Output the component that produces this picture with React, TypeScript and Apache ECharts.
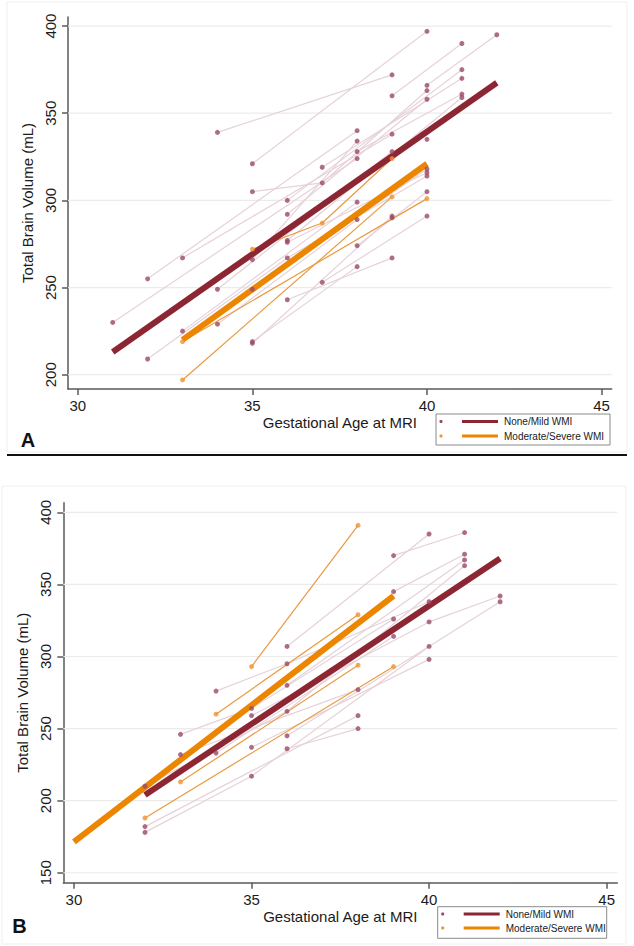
import React, { useEffect, useRef } from "react";
import * as echarts from "echarts";

// ---------- tick labels / categories ----------
const X_TICKS = [30, 35, 40, 45];
const A_Y_TICKS = [200, 250, 300, 350, 400];
const B_Y_TICKS = [150, 200, 250, 300, 350, 400];
const GROUPS = ["None/Mild WMI", "Moderate/Severe WMI"];
const X_TITLE = "Gestational Age at MRI";
const Y_TITLE = "Total Brain Volume (mL)";
const PANEL_LABELS = ["A", "B"];

// ---------- Panel A data: [GA weeks, volume mL] per subject ----------
const A_NONE_SUBJECTS = [
  [[31, 230], [38, 324]],
  [[32, 255], [38, 340]],
  [[32, 209], [36, 267], [40, 314]],
  [[33, 267], [39, 338]],
  [[33, 225], [38, 299]],
  [[34, 339], [39, 372]],
  [[34, 249], [39, 328]],
  [[34, 229], [38, 289]],
  [[35, 321], [40, 397]],
  [[35, 305], [37, 310], [40, 363]],
  [[35, 266], [38, 334]],
  [[35, 249], [40, 318]],
  [[35, 218], [39, 291]],
  [[35, 219], [38, 262]],
  [[36, 300], [41, 375]],
  [[36, 292], [40, 358]],
  [[36, 277], [41, 359]],
  [[36, 276], [40, 316]],
  [[36, 243], [39, 267]],
  [[37, 319], [41, 370]],
  [[37, 253], [40, 291]],
  [[38, 328], [41, 361]],
  [[39, 360], [41, 390]],
  [[40, 366], [42, 395]],
  [[38, 274], [40, 305]],
  [[39, 290]],
  [[40, 335]],
];
const A_MOD_SUBJECTS = [
  [[33, 197], [39, 302]],
  [[33, 219], [40, 301]],
  [[35, 272], [37, 287], [39, 324]],
];
const A_NONE_FIT = [[31, 213], [42, 367.5]];
const A_MOD_FIT = [[33, 220], [40, 321]];

// ---------- Panel B data ----------
const B_NONE_SUBJECTS = [
  [[32, 210], [36, 262], [41, 363]],
  [[32, 182], [38, 259]],
  [[36, 236], [38, 250]],
  [[33, 246], [35, 264], [39, 326]],
  [[33, 232], [38, 277]],
  [[34, 276], [36, 295], [40, 338]],
  [[34, 233], [39, 314]],
  [[35, 259], [40, 324], [42, 342]],
  [[35, 237], [40, 298]],
  [[32, 178], [35, 217], [40, 307]],
  [[36, 307], [40, 385]],
  [[36, 280], [41, 367]],
  [[36, 245], [42, 338]],
  [[39, 345], [41, 371]],
  [[39, 370], [41, 386]],
];
const B_MOD_SUBJECTS = [
  [[35, 293], [38, 391]],
  [[34, 260], [38, 329]],
  [[33, 213], [38, 294]],
  [[32, 188], [39, 293]],
];
const B_NONE_FIT = [[32, 204], [42, 368]];
const B_MOD_FIT = [[30, 171.5], [39, 342]];

// ---------- styles ----------
const FONT = "'Liberation Sans', Arial, Helvetica, sans-serif";
const TEXT = "#1b1b1b";
const AXIS = "#5a5a5a";
const GRIDC = "#ebebeb";
const NONE_FIT_C = "#8c2633";
const NONE_DOT_C = "#9a4a68";
const NONE_THIN_C = "#e6d2d8";
const MOD_FIT_C = "#ec8500";
const MOD_DOT_C = "#ee9535";
const MOD_THIN_C = "#e99a40";

type Panel = {
  grid: { left: number; top: number; width: number; height: number };
  xr: [number, number];
  yr: [number, number];
  yTicks: number[];
  none: number[][][];
  mod: number[][][];
  noneFit: number[][];
  modFit: number[][];
};

const PANELS: Panel[] = [
  {
    grid: { left: 68, top: 17, width: 543.7, height: 372 },
    xr: [29.72, 45.29],
    yr: [191.8, 405.2],
    yTicks: A_Y_TICKS,
    none: A_NONE_SUBJECTS,
    mod: A_MOD_SUBJECTS,
    noneFit: A_NONE_FIT,
    modFit: A_MOD_FIT,
  },
  {
    grid: { left: 63.3, top: 502.7, width: 554, height: 380 },
    xr: [29.7, 45.3],
    yr: [143.1, 406.7],
    yTicks: B_Y_TICKS,
    none: B_NONE_SUBJECTS,
    mod: B_MOD_SUBJECTS,
    noneFit: B_NONE_FIT,
    modFit: B_MOD_FIT,
  },
];

function buildOption() {
  const grids: any[] = [];
  const xAxes: any[] = [];
  const yAxes: any[] = [];
  const series: any[] = [];

  PANELS.forEach((p, i) => {
    grids.push({ ...p.grid, containLabel: false });
    xAxes.push({
      type: "value",
      gridIndex: i,
      min: p.xr[0],
      max: p.xr[1],
      axisLine: { show: true, onZero: false, lineStyle: { color: AXIS, width: 1.5 } },
      axisTick: { show: true, customValues: X_TICKS, length: 6, lineStyle: { color: AXIS, width: 1.5 } },
      axisLabel: { customValues: X_TICKS, fontSize: 15, color: TEXT, fontFamily: FONT, margin: 9 },
      splitLine: { show: false },
      name: X_TITLE,
      nameLocation: "middle",
      nameGap: 26,
      nameTextStyle: { fontSize: 15, color: TEXT, fontFamily: FONT },
    });
    yAxes.push({
      type: "value",
      gridIndex: i,
      min: p.yr[0],
      max: p.yr[1],
      axisLine: { show: true, onZero: false, lineStyle: { color: AXIS, width: 1.5 } },
      axisTick: { show: true, customValues: p.yTicks, length: 6, lineStyle: { color: AXIS, width: 1.5 } },
      axisLabel: { customValues: p.yTicks, rotate: 90, fontSize: 15, color: TEXT, fontFamily: FONT, margin: 10 },
      splitLine: { show: false },
      name: Y_TITLE,
      nameLocation: "middle",
      nameGap: 27,
      nameRotate: 90,
      nameTextStyle: { fontSize: 15, color: TEXT, fontFamily: FONT },
    });

    // grid lines at y ticks
    p.yTicks.forEach((v) => {
      series.push({
        type: "line",
        xAxisIndex: i,
        yAxisIndex: i,
        data: [[p.xr[0], v], [p.xr[1], v]],
        showSymbol: false,
        silent: true,
        z: 0,
        lineStyle: { color: GRIDC, width: 1.2 },
      });
    });

    // thin subject lines
    p.none.forEach((s) => {
      series.push({
        type: "line",
        xAxisIndex: i,
        yAxisIndex: i,
        data: s,
        showSymbol: false,
        silent: true,
        z: 1,
        lineStyle: { color: NONE_THIN_C, width: 1.2 },
      });
    });
    p.mod.forEach((s) => {
      series.push({
        type: "line",
        xAxisIndex: i,
        yAxisIndex: i,
        data: s,
        showSymbol: false,
        silent: true,
        z: 1,
        lineStyle: { color: MOD_THIN_C, width: 1.2 },
      });
    });

    // fit lines
    series.push({
      type: "line",
      name: GROUPS[0],
      xAxisIndex: i,
      yAxisIndex: i,
      data: p.noneFit,
      showSymbol: false,
      silent: true,
      z: 2,
      lineStyle: { color: NONE_FIT_C, width: 6 },
    });
    series.push({
      type: "line",
      name: GROUPS[1],
      xAxisIndex: i,
      yAxisIndex: i,
      data: p.modFit,
      showSymbol: false,
      silent: true,
      z: 2,
      lineStyle: { color: MOD_FIT_C, width: 6 },
    });

    // dots
    series.push({
      type: "scatter",
      xAxisIndex: i,
      yAxisIndex: i,
      data: p.none.flat(),
      symbolSize: 5,
      silent: true,
      z: 3,
      itemStyle: { color: NONE_DOT_C },
    });
    series.push({
      type: "scatter",
      xAxisIndex: i,
      yAxisIndex: i,
      data: p.mod.flat(),
      symbolSize: 5,
      silent: true,
      z: 3,
      itemStyle: { color: MOD_DOT_C },
    });
  });

  const legend = (x: number, y: number, w: number, h: number, r1: number, r2: number) => {
    const rows = [
      { yy: r1, dot: NONE_DOT_C, line: NONE_FIT_C, text: GROUPS[0] },
      { yy: r2, dot: MOD_DOT_C, line: MOD_FIT_C, text: GROUPS[1] },
    ];
    const els: any[] = [
      {
        type: "rect",
        shape: { x, y, width: w, height: h },
        style: { fill: "#fff", stroke: "#8a8a8a", lineWidth: 1 },
        z: 10,
      },
    ];
    rows.forEach((r) => {
      els.push({ type: "circle", shape: { cx: x + 5, cy: r.yy, r: 1.6 }, style: { fill: r.dot }, z: 11 });
      els.push({
        type: "line",
        shape: { x1: x + 26, y1: r.yy, x2: x + 62, y2: r.yy },
        style: { stroke: r.line, lineWidth: 3 },
        z: 11,
      });
      els.push({
        type: "text",
        x: x + 68,
        y: r.yy,
        style: { text: r.text, fontSize: 10, fontFamily: FONT, fill: "#222", verticalAlign: "middle" },
        z: 11,
      });
    });
    return els;
  };

  const graphic: any[] = [
    { type: "rect", shape: { x: 7, y: 2, width: 620, height: 450 }, style: { fill: "none", stroke: "#efefef", lineWidth: 1 }, z: -1 },
    { type: "rect", shape: { x: 2, y: 486, width: 624, height: 458 }, style: { fill: "none", stroke: "#efefef", lineWidth: 1 }, z: -1 },
    { type: "line", shape: { x1: 7, y1: 455, x2: 627, y2: 455 }, style: { stroke: "#111", lineWidth: 2 }, z: 5 },
    {
      type: "text",
      x: 28,
      y: 440,
      style: { text: PANEL_LABELS[0], fontSize: 20, fontWeight: "bold", fontFamily: FONT, fill: "#111", align: "center", verticalAlign: "middle" },
    },
    {
      type: "text",
      x: 19.5,
      y: 925.5,
      style: { text: PANEL_LABELS[1], fontSize: 20, fontWeight: "bold", fontFamily: FONT, fill: "#111", align: "center", verticalAlign: "middle" },
    },
    ...legend(436, 414, 174, 31, 421.5, 436),
    ...legend(437.7, 906.7, 169, 31.6, 914, 928),
  ];

  return {
    animation: false,
    backgroundColor: "#fff",
    grid: grids,
    xAxis: xAxes,
    yAxis: yAxes,
    series,
    graphic,
  };
}

export default function App() {
  const ref = useRef<HTMLDivElement>(null);
  useEffect(() => {
    const chart = echarts.init(ref.current!, null, { renderer: "svg" });
    chart.setOption(buildOption() as any);
    return () => chart.dispose();
  }, []);
  return (
    <div
      ref={ref}
      style={{ position: "absolute", left: 0, top: 0, width: 634, height: 946, background: "#fff" }}
    />
  );
}
